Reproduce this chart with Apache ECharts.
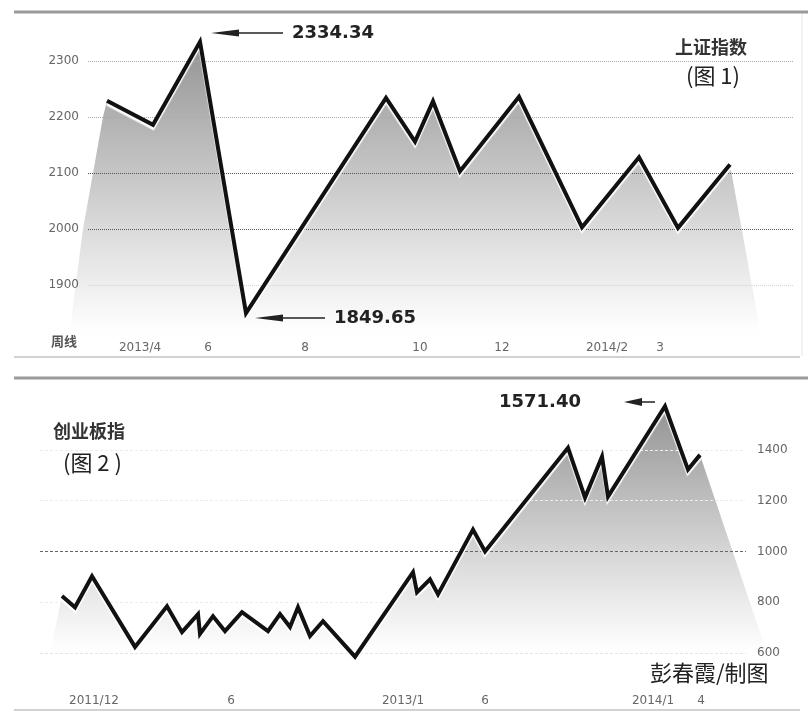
<!DOCTYPE html>
<html><head><meta charset="utf-8">
<script src="https://cdn.jsdelivr.net/npm/echarts@6/dist/echarts.min.js"></script>
<style>html,body{margin:0;padding:0;background:#fff}#c{width:808px;height:712px}</style>
</head><body><div id="c"></div>
<script>
// ---- 上证指数 (周线) ----
const shPos = [1.9, 6.5, 11.2, 15.8, 29.8, 32.7, 34.5, 37.2, 43.1, 49.4, 55.1, 59.0, 64.2];
const shVal = [2229, 2186, 2334.34, 1849.65, 2234, 2156, 2228, 2103, 2236, 2003, 2128, 2002, 2115];
const shFillLeft = [[-1.9, 1800], [-1.6, 1850], [-0.5, 2000], [1.5, 2200]];
const shFillRight = [[67.4, 1800]];
const shTickPos = [5.2, 12.0, 21.7, 33.2, 41.4, 51.9, 57.2];
const shTickLabels = ['2013/4', '6', '8', '10', '12', '2014/2', '3'];
// ---- 创业板指 ----
const cyPos = [2.2, 3.5, 5.2, 9.5, 12.7, 14.2, 15.8, 16.0, 17.3, 18.5, 20.2, 22.8, 24.0, 25.0, 25.8, 27.0, 28.3, 31.5,
               37.3, 37.7, 39.0, 39.8, 43.3, 44.5, 52.8, 54.5, 56.2, 56.8, 62.5, 64.8, 66.0];
const cyVal = [824, 780, 902, 624, 784, 682, 753, 675, 745, 686, 761, 686, 753, 702, 780, 667, 725, 585.44,
               918, 839, 890, 831, 1086, 1000, 1408, 1212, 1373, 1216, 1571.40, 1322, 1380];
const cyFillLeft = [[1.0, 600]];
const cyFillRight = [[72.7, 600]];
const cyTickPos = [5.4, 19.1, 36.3, 44.5, 61.3, 66.1];
const cyTickLabels = ['2011/12', '6', '2013/1', '6', '2014/1', '4'];

const shMax = Math.max(...shVal), shMin = Math.min(...shVal);
const cyMax = Math.max(...cyVal), cyMin = Math.min(...cyVal);

function pairs(pos, val) { return pos.map((p, i) => [p, val[i]]); }
function tickFmt(pos, labels) {
  return function (v) {
    const i = pos.findIndex(p => Math.abs(p - v) < 1e-6);
    return i >= 0 ? labels[i] : '';
  };
}
const numFont = 'DejaVu Sans';
const cjk = '"Noto Sans CJK SC", sans-serif';
function grad(stops) {
  return new echarts.graphic.LinearGradient(0, 0, 0, 1, stops.map(s => ({offset: s[0], color: s[1]})));
}
const lineStyleMain = {color: '#111', width: 4, join: 'miter', miterLimit: 20,
  shadowColor: 'rgba(255,255,255,0.95)', shadowBlur: 1, shadowOffsetY: 3};
const annoLabel = (txt, pos, dist) => ({show: true, position: pos, distance: dist, formatter: () => txt,
  fontFamily: numFont, fontWeight: 'bold', fontSize: 18, color: '#222'});
const hiddenAxis = {show: false, axisLine: {show: false}, axisTick: {show: false}, axisLabel: {show: false}, splitLine: {show: false}};

const chart = echarts.init(document.getElementById('c'), null, {renderer: 'canvas'});
chart.setOption({
  backgroundColor: '#fff',
  animation: false,
  title: [
    {text: '上证指数', left: 675, top: 38, padding: 0, textStyle: {fontFamily: cjk, fontSize: 18, fontWeight: 'bold', color: '#333'}},
    {text: '(图 1)', left: 686, top: 65, padding: 0, textStyle: {fontFamily: cjk, fontSize: 22, fontWeight: 'normal', color: '#222'}},
    {text: '创业板指', left: 53, top: 422, padding: 0, textStyle: {fontFamily: cjk, fontSize: 18, fontWeight: 'bold', color: '#333'}},
    {text: '(图 2 )', left: 63, top: 452, padding: 0, textStyle: {fontFamily: cjk, fontSize: 22, fontWeight: 'normal', color: '#222'}},
    {text: '彭春霞/制图', left: 650, top: 662, padding: 0, textStyle: {fontFamily: cjk, fontSize: 22, fontWeight: 'normal', color: '#222'}}
  ],
  graphic: [
    {type: 'line', shape: {x1: 14, y1: 12, x2: 808, y2: 12}, style: {stroke: '#9a9a9a', lineWidth: 3}, silent: true},
    {type: 'line', shape: {x1: 14, y1: 357, x2: 800, y2: 357}, style: {stroke: '#a5a5a5', lineWidth: 1}, silent: true},
    {type: 'line', shape: {x1: 802, y1: 14, x2: 802, y2: 356}, style: {stroke: '#e4e4e4', lineWidth: 1}, silent: true},
    {type: 'line', shape: {x1: 14, y1: 378, x2: 808, y2: 378}, style: {stroke: '#9a9a9a', lineWidth: 3}, silent: true},
    {type: 'line', shape: {x1: 14, y1: 710, x2: 800, y2: 710}, style: {stroke: '#a5a5a5', lineWidth: 1}, silent: true}
  ],
  grid: [
    {left: 88, right: 15, top: 5, height: 336},
    {left: 40, right: 62, top: 399, height: 254},
    {left: 68, right: 15, top: 5, height: 336},
    {left: 40, right: 38, top: 399, height: 254}
  ],
  xAxis: [
    {type: 'value', gridIndex: 0, min: 0, max: 70.5, z: 3,
     name: '周线', nameLocation: 'start', nameGap: 11,
     nameTextStyle: {fontFamily: cjk, fontSize: 13, fontWeight: 'bold', color: '#555', padding: [14, 0, 0, 0]},
     axisLine: {show: false}, axisTick: {show: false}, splitLine: {show: false},
     axisLabel: {customValues: shTickPos, formatter: tickFmt(shTickPos, shTickLabels), margin: 1,
       fontFamily: numFont, fontSize: 12, color: '#666'}},
    {type: 'value', gridIndex: 1, min: 0, max: 70.6, z: 3,
     axisLine: {show: false}, axisTick: {show: false}, splitLine: {show: false},
     axisLabel: {customValues: cyTickPos, formatter: tickFmt(cyTickPos, cyTickLabels), margin: 42,
       fontFamily: numFont, fontSize: 12, color: '#666'}},
    Object.assign({type: 'value', gridIndex: 2, min: -2.0, max: 70.5}, hiddenAxis),
    Object.assign({type: 'value', gridIndex: 3, min: 0, max: 73.0}, hiddenAxis)
  ],
  yAxis: [
    {type: 'value', gridIndex: 0, min: 1800, max: 2400, interval: 100, z: 3,
     axisLine: {show: false}, axisTick: {show: false},
     axisLabel: {showMinLabel: false, showMaxLabel: false, margin: 9, formatter: v => String(v),
       fontFamily: numFont, fontSize: 12, color: '#666'},
     splitLine: {show: true, lineStyle: {type: 'dotted', width: 1,
       color: ['rgba(0,0,0,0)', '#d6d6d6', '#555', '#555', '#a8a8a8', '#a8a8a8', 'rgba(0,0,0,0)']}}},
    {type: 'value', gridIndex: 1, position: 'right', min: 600, max: 1600, interval: 200, z: 3,
     axisLine: {show: false}, axisTick: {show: false},
     axisLabel: {showMaxLabel: false, margin: 11, formatter: v => String(v),
       fontFamily: numFont, fontSize: 12, color: '#666'},
     splitLine: {show: true, lineStyle: {type: [3, 2], width: 1,
       color: ['#e4e4e4', '#ececec', '#666', '#ececec', '#ececec', 'rgba(0,0,0,0)']}}},
    Object.assign({type: 'value', gridIndex: 2, min: 1800, max: 2400}, hiddenAxis),
    Object.assign({type: 'value', gridIndex: 3, min: 600, max: 1600}, hiddenAxis)
  ],
  series: [
    {type: 'line', xAxisIndex: 2, yAxisIndex: 2, silent: true, z: 1, symbol: 'none',
     data: [...shFillLeft, ...pairs(shPos, shVal), ...shFillRight],
     lineStyle: {width: 0}, areaStyle: {origin: 'start', opacity: 1,
       color: grad([[0, '#939393'], [0.26, '#b2b2b2'], [0.45, '#c7c7c7'], [0.63, '#dbdbdb'], [0.81, '#eeeeee'], [0.95, '#fdfdfd'], [1, '#ffffff']])}},
    {type: 'line', xAxisIndex: 0, yAxisIndex: 0, silent: true, clip: false, z: 5, symbol: 'none',
     data: pairs(shPos, shVal), lineStyle: lineStyleMain,
     markLine: {silent: true, symbol: ['none', 'none'], animation: false,
       lineStyle: {color: '#222', width: 1.5, type: 'solid'},
       data: [
         [{coord: [13.7, 2350], symbol: 'triangle', symbolSize: [7, 28]},
          {coord: [19.5, 2350], symbol: 'none', label: annoLabel(shMax.toFixed(2), 'end', 9)}],
         [{coord: [18.1, 1841], symbol: 'triangle', symbolSize: [7, 28]},
          {coord: [23.7, 1841], symbol: 'none', label: annoLabel(shMin.toFixed(2), 'end', 9)}]
       ]}},
    {type: 'line', xAxisIndex: 3, yAxisIndex: 3, silent: true, z: 1, symbol: 'none',
     data: [...cyFillLeft, ...pairs(cyPos, cyVal), ...cyFillRight],
     lineStyle: {width: 0}, areaStyle: {origin: 'start', opacity: 1,
       color: grad([[0, '#939393'], [0.17, '#a7a7a7'], [0.38, '#bfbfbf'], [0.59, '#d7d7d7'], [0.79, '#ececec'], [0.96, '#fdfdfd'], [1, '#ffffff']])}},
    {type: 'line', xAxisIndex: 1, yAxisIndex: 1, silent: true, clip: false, z: 5, symbol: 'none',
     data: pairs(cyPos, cyVal), lineStyle: lineStyleMain,
     markLine: {silent: true, symbol: ['none', 'none'], animation: false,
       lineStyle: {color: '#222', width: 1.5, type: 'solid'},
       data: [
         [{coord: [59.3, 1588], symbol: 'triangle', symbolSize: [8, 18], label: annoLabel(cyMax.toFixed(2), 'start', 52)},
          {coord: [61.5, 1588], symbol: 'none'}],
         [{coord: [33.7, 569], symbol: 'triangle', symbolSize: [6, 24]},
          {coord: [39.3, 569], symbol: 'none', label: annoLabel(cyMin.toFixed(2), 'end', 9)}]
       ]}}
  ]
});
</script></body></html>
